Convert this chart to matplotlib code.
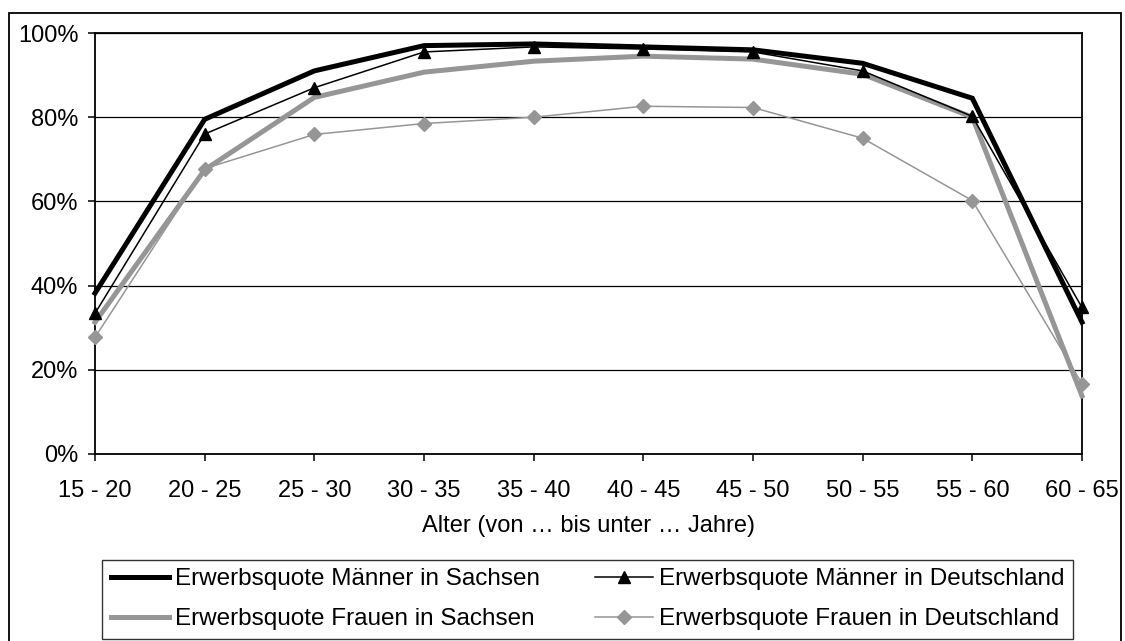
import matplotlib
matplotlib.use("Agg")
import matplotlib.pyplot as plt
from matplotlib.patches import Rectangle
from matplotlib.ticker import FuncFormatter

plt.rcParams['font.family'] = ['Liberation Sans', 'DejaVu Sans']

age_groups = ["15 - 20", "20 - 25", "25 - 30", "30 - 35", "35 - 40",
              "40 - 45", "45 - 50", "50 - 55", "55 - 60", "60 - 65"]
maenner_sachsen = [38.2, 79.5, 91.0, 97.0, 97.4, 96.7, 96.0, 92.8, 84.5, 31.3]
maenner_deutschland = [33.4, 76.0, 87.0, 95.5, 96.7, 96.2, 95.5, 91.0, 80.2, 34.8]
frauen_sachsen = [31.3, 67.5, 84.7, 90.7, 93.3, 94.5, 93.8, 90.2, 80.0, 13.8]
frauen_deutschland = [27.7, 67.8, 75.9, 78.5, 80.0, 82.6, 82.3, 75.0, 60.2, 16.7]

W, H = 1125, 641
fig = plt.figure(figsize=(W / 100, H / 100), dpi=100)
ax = fig.add_axes([95 / W, (H - 454) / H, (1082 - 95) / W, (454 - 33) / H])

gray = "#969696"
x = range(len(age_groups))
l1, = ax.plot(x, maenner_sachsen, color="black", lw=3.6, solid_joinstyle="miter",
              label="Erwerbsquote Männer in Sachsen", zorder=3, clip_on=False)
l3, = ax.plot(x, frauen_sachsen, color=gray, lw=3.6, solid_joinstyle="miter",
              label="Erwerbsquote Frauen in Sachsen", zorder=3, clip_on=False)
l2, = ax.plot(x, maenner_deutschland, color="black", lw=1.1, marker="^", markersize=8.5,
              label="Erwerbsquote Männer in Deutschland", zorder=4, clip_on=False)
l4, = ax.plot(x, frauen_deutschland, color=gray, lw=1.1, marker="D", markersize=7.5,
              label="Erwerbsquote Frauen in Deutschland", zorder=4, clip_on=False)

ax.set_xlim(0, len(age_groups) - 1)
ax.set_ylim(0, 100)
ax.set_xticks(list(x))
ax.set_xticklabels(age_groups)
ax.set_yticks([0, 20, 40, 60, 80, 100])
ax.yaxis.set_major_formatter(FuncFormatter(lambda v, p: f"{v:.0f}%"))
ax.tick_params(axis="both", direction="out", length=5, width=1.1, color="black",
               labelsize=17)
ax.tick_params(axis="x", pad=13.5)
ax.tick_params(axis="y", pad=7)
ax.grid(axis="y", color="black", lw=0.9, zorder=1)
for s in ax.spines.values():
    s.set_linewidth(1.3)
    s.set_color("black")

ax.set_xlabel("Alter (von … bis unter … Jahre)", fontsize=17, labelpad=9.5)

leg = fig.legend([l1, l3, l2, l4],
                 [l1.get_label(), l3.get_label(), l2.get_label(), l4.get_label()],
                 ncol=2, mode="expand", loc="lower left",
                 bbox_to_anchor=(102 / W, (H - 639) / H, (1073 - 102) / W, (639 - 556) / H),
                 fontsize=17.5, frameon=True, fancybox=False, handlelength=2.4,
                 handletextpad=0.25, borderaxespad=0, borderpad=0.35,
                 labelspacing=0.74, columnspacing=1.0)
leg.get_frame().set_edgecolor("black")
leg.get_frame().set_linewidth(1.0)

fig.patches.append(Rectangle((9 / W, -0.05), (1121 - 9) / W, 1.05 - 13 / H,
                             transform=fig.transFigure, fill=False,
                             edgecolor="black", lw=1.3))

fig.savefig("out.png", dpi=100)
